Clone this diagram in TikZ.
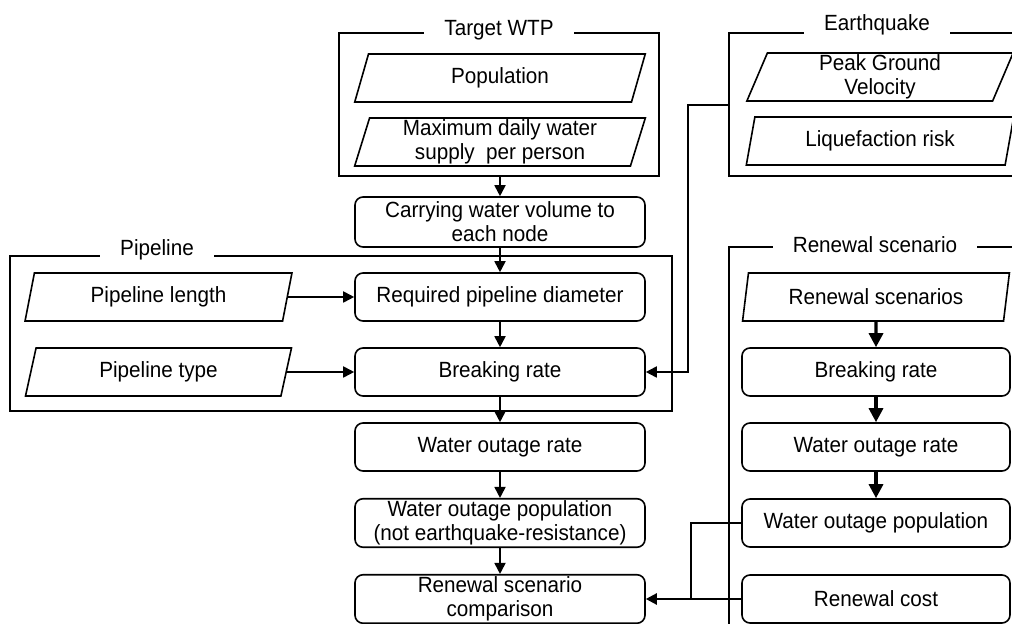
\documentclass[tikz,border=0pt]{standalone}
\usepackage{fontspec}
\setmainfont{Liberation Sans}[FakeStretch=0.94]
\usetikzlibrary{shapes.geometric,arrows.meta}

\begin{document}
\begin{tikzpicture}[x=0.5pt,y=-0.5pt,
  font=\fontsize{11}{12}\selectfont,
  proc/.style={draw,line width=0.8pt,rounded corners=4pt,minimum width=145pt,minimum height=24pt,inner sep=1pt,align=center},
  inp/.style={draw,line width=0.8pt,trapezium,trapezium left angle=76,trapezium right angle=104,trapezium stretches=true,minimum width=145.5pt,minimum height=24pt,inner sep=0pt,align=center},
  grp/.style={line width=0.7pt},
  grptitle/.style={fill=white,inner xsep=10pt,inner ysep=1pt},
  arr/.style={line width=0.9pt,-{Triangle[length=5.5pt,width=5.5pt]}},
  bigarr/.style={line width=1.6pt,-{Triangle[length=7pt,width=7pt]}}]
\useasboundingbox (0,0) rectangle (1012,624);

% Target WTP
\draw[grp] (339,33) rectangle (659,176);
\node[grptitle] (wtp) at (499,30) {Target WTP};
\node[inp] (pop) at (500,78) {Population};
\node[inp] (maxd) at (500,142) {Maximum daily water\\supply\ \ per person};
\coordinate (wtpB) at (500,176);

% Earthquake
\draw[grp] (1020,33) -- (729,33) -- (729,176) -- (1020,176);
\node[grptitle] (eq) at (877,25) {Earthquake};
\node[inp,minimum width=134pt] (pgv) at (880,77) {Peak Ground\\Velocity};
\node[inp,minimum width=134pt] (liq) at (880,141) {Liquefaction risk};
\coordinate (eqL) at (729,105);

% Pipeline
\draw[grp] (10,256) rectangle (672,411);
\node[grptitle] (pipe) at (157,250) {Pipeline};
\node[inp,minimum width=133.5pt] (plen) at (158.5,297) {Pipeline length};
\node[inp,minimum width=133.5pt] (ptype) at (158.5,372) {Pipeline type};

% Renewal scenario
\draw[grp] (1020,247) -- (729,247) -- (729,630);
\node[grptitle] (ren) at (875,245) {Renewal scenario};
\node[inp,minimum width=134pt] (rsc) at (876,297) {Renewal scenarios};

% Left column
\node[proc,minimum height=25pt] (carry) at (500,222) {Carrying water volume to\\each node};
\node[proc] (reqd) at (500,297) {Required pipeline diameter};
\node[proc] (brk) at (500,372) {Breaking rate};
\node[proc] (wor) at (500,447) {Water outage rate};
\node[proc] (wop) at (500,523) {Water outage population\\(not earthquake-resistance)};
\node[proc] (cmp) at (500,599) {Renewal scenario\\comparison};

% Right column
\node[proc,minimum width=134pt] (rbrk) at (876,372) {Breaking rate};
\node[proc,minimum width=134pt] (rwor) at (876,447) {Water outage rate};
\node[proc,minimum width=134pt] (rwop) at (876,523) {Water outage population};
\node[proc,minimum width=134pt] (rcost) at (876,599) {Renewal cost};

% Arrows
\draw[arr] (wtpB) -- (carry.north);
\draw[arr] (carry.south) -- (reqd.north);
\draw[arr] (reqd.south) -- (brk.north);
\draw[arr] (brk.south) -- (wor.north);
\draw[arr] (wor.south) -- (wop.north);
\draw[arr] (wop.south) -- (cmp.north);
\draw[arr] (plen.east) -- (reqd.west);
\draw[arr] (ptype.east) -- (brk.west);
\draw[arr] (eqL) -- ++(-41,0) |- (brk.east);
\draw[bigarr] (rsc.south) -- (rbrk.north);
\draw[bigarr] (rbrk.south) -- (rwor.north);
\draw[bigarr] (rwor.south) -- (rwop.north);
\draw[line width=1.2pt] (rwop.west) -- ++(-50,0) |- (rcost.west);
\draw[arr,line width=1.2pt] (rcost.west) -- (cmp.east);
\end{tikzpicture}
\end{document}
